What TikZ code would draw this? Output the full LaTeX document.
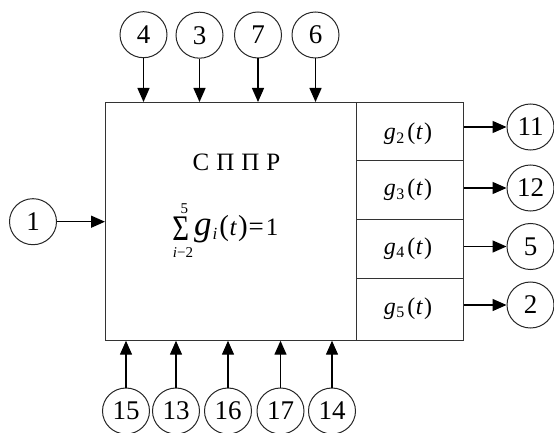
\documentclass[tikz,border=0pt]{standalone}
\usepackage{fontspec}
\setmainfont{Liberation Serif}
\usepackage{graphicx}
\usetikzlibrary{arrows.meta,shapes.geometric}
\tikzset{
  circ/.style={draw=black!85, ellipse, line width=1pt, minimum width=47pt, minimum height=46pt, inner sep=0pt, font=\fontsize{27}{27}\selectfont},
  blk/.style={draw=black!80, line width=1.2pt, inner sep=0pt},
  arr/.style={line width=1.4pt, -{Triangle[length=14pt,width=12pt]}},
  rowtxt/.style={font=\fontsize{24}{24}\selectfont}
}
\newcommand{\gfun}[1]{\textit{g}\kern0.5pt{\fontsize{16}{16}\selectfont\raisebox{-3.5pt}{#1}}\kern3pt(\kern0.5pt\textit{t}\kern1pt)}
\begin{document}
\begin{tikzpicture}[x=1pt,y=-1pt]
\useasboundingbox (0,0) rectangle (554,433);
% main block
\node[blk, anchor=north west, minimum width=251pt, minimum height=237.5pt] (box) at (105,102) {};
% right rows
\node[blk, anchor=north west, minimum width=107pt, minimum height=57.5pt] (r2) at (356,102) {};
\node[blk, anchor=north west, minimum width=107pt, minimum height=59.5pt] (r3) at (356,159.5) {};
\node[blk, anchor=north west, minimum width=107pt, minimum height=59pt] (r4) at (356,219) {};
\node[blk, anchor=north west, minimum width=107pt, minimum height=62pt] (r5) at (356,278) {};
\node[rowtxt] (t2) at (408,134) {\gfun{2}};
\node[rowtxt] (t3) at (408,190) {\gfun{3}};
\node[rowtxt] (t4) at (408,248.5) {\gfun{4}};
\node[rowtxt] (t5) at (408,308.5) {\gfun{5}};
% title
\node[font=\fontsize{25}{25}\selectfont] (title) at (236.5,162.5) {С\hspace{7pt}П\hspace{7pt}П\hspace{7pt}Р};
% formula
\node[anchor=base, inner sep=0pt, font=\fontsize{36}{36}\selectfont] (sig) at (180.8,240) {\scalebox{0.8}[1]{Σ}};
\node[anchor=base, inner sep=0pt, font=\fontsize{15}{15}\selectfont] (sup) at (184.3,213) {5};
\node[anchor=base, inner sep=0pt, font=\fontsize{15}{15}\selectfont] (sub) at (183,257) {\textit{i}−2};
\node[anchor=base west, inner sep=0pt, font=\fontsize{25}{25}\selectfont] (gsum) at (194,235) {{\fontsize{35}{35}\selectfont\textit{g}}\kern1pt\raisebox{-4pt}{\fontsize{17}{17}\selectfont\textit{i}}\kern2pt{\fontsize{29}{29}\selectfont(}\kern0.5pt\textit{t}\kern1pt{\fontsize{29}{29}\selectfont)}\kern1pt{\fontsize{27}{27}\selectfont=}\kern2pt1};
% top circles
\node[circ] (c4) at (143.5,34.7) {4};
\node[circ] (c3) at (199.5,35.2) {3};
\node[circ] (c7) at (258,35) {7};
\node[circ] (c6) at (315.5,35) {6};
\foreach \c in {c4,c3,c7,c6} \draw[arr] (\c) -- (\c |- box.north);
% left circle
\node[circ] (c1) at (33,221.7) {1};
\draw[arr] (c1) -- (c1 -| box.west);
% right circles
\node[circ] (c11) at (530.5,127) {11};
\node[circ] (c12) at (530.5,188) {12};
\node[circ] (c5) at (530.5,246.5) {5};
\node[circ] (c2) at (530.5,305) {2};
\draw[arr] (r2.east |- c11) -- (c11);
\draw[arr] (r3.east |- c12) -- (c12);
\draw[arr] (r4.east |- c5) -- (c5);
\draw[arr] (r5.east |- c2) -- (c2);
% bottom circles
\node[circ] (c15) at (126,411) {15};
\node[circ] (c13) at (176,411) {13};
\node[circ] (c16) at (228,411) {16};
\node[circ] (c17) at (280.5,411) {17};
\node[circ] (c14) at (332,411) {14};
\foreach \c in {c15,c13,c16,c17,c14} \draw[arr] (\c) -- (\c |- box.south);
\end{tikzpicture}
\end{document}
